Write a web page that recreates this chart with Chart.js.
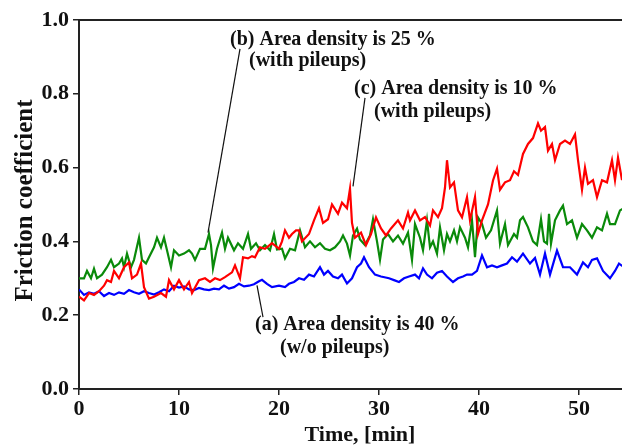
<!DOCTYPE html>
<html>
<head>
<meta charset="utf-8">
<script src="https://cdn.jsdelivr.net/npm/chart.js@4/dist/chart.umd.min.js"></script>
<style>
  html, body { margin: 0; padding: 0; background: #ffffff; }
  #wrap { width: 622px; height: 445px; position: relative; }
</style>
</head>
<body>
<div id="wrap"><canvas id="c" width="622" height="445"></canvas></div>
<script>
// ---- data: [time (min), friction coefficient] ----
const xTicks = [0, 10, 20, 30, 40, 50];
const yTicks = [0.0, 0.2, 0.4, 0.6, 0.8, 1.0];
const xTitle = "Time, [min]";
const yTitle = "Friction coefficient";

const seriesNames = ["(a) Area density is 40 %", "(b) Area density is 25 %", "(c) Area density is 10 %"];

const blueA = [[0,0.27],[0.5,0.255],[1,0.262],[1.5,0.258],[2,0.265],[2.5,0.252],[3,0.26],[3.5,0.255],[4,0.262],[4.5,0.258],[5,0.268],[5.5,0.262],[6,0.258],[6.5,0.265],[7,0.26],[7.5,0.256],[8,0.262],[8.5,0.27],[9,0.265],[9.5,0.28],[10,0.275],[10.5,0.278],[11,0.27],[11.5,0.268],[12,0.274],[12.5,0.27],[13,0.268],[13.5,0.272],[14,0.27],[14.5,0.28],[15,0.272],[15.5,0.276],[16,0.285],[16.5,0.278],[17,0.28],[17.5,0.284],[18,0.292],[18.3,0.296],[18.8,0.285],[19.3,0.276],[20,0.28],[20.6,0.276],[21,0.285],[21.5,0.29],[22,0.3],[22.5,0.296],[23,0.31],[23.5,0.305],[24.1,0.33],[24.5,0.31],[24.9,0.32],[25.4,0.305],[25.9,0.3],[26.3,0.31],[26.8,0.286],[27.3,0.3],[27.8,0.33],[28.2,0.34],[28.5,0.357],[29,0.33],[29.6,0.31],[30.2,0.305],[31,0.3],[31.5,0.295],[32,0.29],[32.5,0.3],[33,0.305],[33.6,0.31],[34,0.3],[34.4,0.327],[34.8,0.31],[35.3,0.3],[35.8,0.315],[36.3,0.32],[36.8,0.305],[37.4,0.29],[37.9,0.3],[38.4,0.305],[38.8,0.31],[39.3,0.31],[39.8,0.32],[40.3,0.362],[40.8,0.33],[41.3,0.335],[41.8,0.33],[42.3,0.335],[42.8,0.34],[43.3,0.357],[43.8,0.345],[44.4,0.367],[45.1,0.34],[45.6,0.355],[46.1,0.31],[46.6,0.367],[47.1,0.31],[47.8,0.375],[48.4,0.33],[49.1,0.33],[49.8,0.31],[50.4,0.343],[50.9,0.33],[51.3,0.35],[51.8,0.354],[52.4,0.32],[53.1,0.3],[53.6,0.32],[54,0.34],[54.5,0.33]];

const greenB = [[0,0.3],[0.5,0.3],[0.8,0.32],[1.2,0.3],[1.5,0.326],[1.8,0.3],[2.3,0.31],[2.8,0.33],[3.2,0.35],[3.5,0.33],[4,0.34],[4.3,0.354],[4.5,0.33],[4.8,0.367],[5.2,0.33],[5.5,0.35],[6,0.41],[6.3,0.35],[6.7,0.34],[7,0.357],[7.5,0.384],[7.8,0.41],[8.2,0.384],[8.5,0.41],[8.8,0.376],[9.2,0.33],[9.5,0.376],[10,0.362],[10.5,0.367],[11,0.376],[11.3,0.367],[11.6,0.35],[12.1,0.38],[12.6,0.38],[13,0.42],[13.2,0.39],[13.4,0.327],[13.8,0.38],[14.3,0.424],[14.6,0.38],[14.9,0.41],[15.5,0.376],[15.9,0.395],[16.4,0.38],[16.9,0.42],[17.2,0.38],[17.7,0.395],[18.1,0.376],[18.6,0.39],[19.1,0.376],[19.5,0.42],[19.8,0.378],[20.3,0.38],[20.6,0.354],[21.1,0.38],[21.6,0.376],[22.1,0.43],[22.6,0.384],[23.1,0.4],[23.6,0.384],[24.1,0.395],[24.6,0.38],[25.1,0.376],[25.6,0.384],[26.1,0.4],[26.4,0.416],[26.8,0.394],[27.1,0.362],[27.4,0.416],[27.8,0.435],[28.1,0.405],[28.6,0.39],[29.1,0.416],[29.4,0.46],[29.8,0.4],[30.1,0.35],[30.4,0.405],[30.9,0.42],[31.4,0.4],[31.9,0.416],[32.4,0.394],[32.9,0.424],[33.3,0.35],[33.6,0.447],[34.1,0.41],[34.4,0.376],[34.8,0.457],[35.1,0.384],[35.4,0.4],[35.8,0.367],[36.1,0.438],[36.5,0.376],[36.8,0.42],[37.1,0.4],[37.5,0.43],[37.8,0.4],[38.1,0.438],[38.6,0.41],[38.9,0.384],[39.3,0.457],[39.6,0.357],[39.9,0.465],[40.3,0.447],[40.7,0.41],[41.2,0.43],[41.8,0.484],[42.1,0.394],[42.6,0.447],[42.9,0.39],[43.5,0.42],[43.8,0.41],[44.1,0.457],[44.4,0.466],[44.9,0.438],[45.4,0.4],[45.8,0.39],[46.2,0.46],[46.5,0.4],[46.8,0.394],[47,0.475],[47.2,0.394],[47.6,0.457],[48.1,0.484],[48.4,0.497],[48.8,0.447],[49.3,0.457],[49.8,0.41],[50.3,0.447],[50.8,0.43],[51.3,0.41],[51.8,0.438],[52.3,0.43],[52.8,0.475],[53.1,0.447],[53.6,0.447],[54.1,0.484],[54.5,0.49]];

const redC = [[0,0.25],[0.5,0.24],[1,0.26],[1.5,0.255],[2,0.265],[2.5,0.28],[2.8,0.295],[3.2,0.29],[3.5,0.32],[4,0.3],[4.5,0.33],[5,0.343],[5.3,0.3],[5.8,0.31],[6.2,0.34],[6.5,0.276],[7,0.245],[7.5,0.25],[8.2,0.26],[8.7,0.25],[9,0.295],[9.5,0.27],[10,0.295],[10.5,0.27],[11,0.29],[11.3,0.26],[11.7,0.28],[12,0.295],[12.6,0.3],[13.1,0.29],[13.6,0.3],[14.1,0.295],[14.6,0.303],[15.3,0.316],[15.6,0.335],[16.1,0.3],[16.4,0.357],[16.9,0.354],[17.3,0.36],[17.6,0.357],[18.1,0.384],[18.6,0.38],[19.3,0.395],[20,0.38],[20.3,0.4],[20.6,0.43],[21,0.41],[21.3,0.42],[21.7,0.43],[22,0.43],[22.3,0.4],[23,0.42],[23.5,0.457],[24,0.49],[24.4,0.45],[24.9,0.46],[25.3,0.5],[25.9,0.475],[26.3,0.505],[26.8,0.49],[27.1,0.543],[27.3,0.45],[27.6,0.41],[28.2,0.424],[28.7,0.39],[29.2,0.42],[29.7,0.465],[30.2,0.435],[30.7,0.416],[31.2,0.435],[31.9,0.457],[32.4,0.435],[32.9,0.478],[33.1,0.457],[33.6,0.484],[34.1,0.457],[34.6,0.466],[35.1,0.443],[35.4,0.484],[35.9,0.466],[36.3,0.49],[36.6,0.546],[36.8,0.62],[37.1,0.546],[37.5,0.56],[37.9,0.484],[38.3,0.465],[38.8,0.52],[39.1,0.457],[39.6,0.52],[39.9,0.42],[40.3,0.457],[40.9,0.5],[41.4,0.565],[41.8,0.597],[42.1,0.54],[42.6,0.56],[43.1,0.566],[43.5,0.59],[43.9,0.58],[44.4,0.637],[44.9,0.664],[45.4,0.68],[45.9,0.72],[46.2,0.7],[46.6,0.71],[46.9,0.646],[47.3,0.664],[47.6,0.62],[48.1,0.664],[48.6,0.673],[49.1,0.664],[49.6,0.69],[49.9,0.62],[50.3,0.54],[50.6,0.6],[50.9,0.556],[51.4,0.566],[51.8,0.52],[52.3,0.566],[52.8,0.56],[53.3,0.62],[53.6,0.566],[53.9,0.627],[54.3,0.566],[54.6,0.58]];

// ---- annotation layout (data units) ----
const notes = [
  { lines: ["(b) Area density is 25 %", "(with pileups)"], at: [[15.1, 0.932], [17.0, 0.876]], leader: [[16.1, 0.922], [12.9, 0.424]] },
  { lines: ["(c) Area density is 10 %", "(with pileups)"], at: [[27.5, 0.800], [29.5, 0.738]], leader: [[28.6, 0.789], [27.4, 0.549]] },
  { lines: ["(a) Area density is 40 %", "(w/o pileups)"], at: [[17.6, 0.159], [20.1, 0.097]], leader: [[17.8, 0.281], [18.4, 0.195]] }
];

const SERIF = '"Liberation Serif", "Times New Roman", serif';
const toXY = arr => arr.map(p => ({ x: p[0], y: p[1] }));

const decor = {
  id: 'decor',
  afterDatasetsDraw(chart) {
    const { ctx, chartArea, scales } = chart;
    const xs = scales.x, ys = scales.y;
    ctx.save();
    // top frame line
    ctx.strokeStyle = '#222';
    ctx.lineWidth = 2;
    ctx.beginPath();
    ctx.moveTo(chartArea.left - 1, chartArea.top);
    ctx.lineTo(chartArea.right, chartArea.top);
    ctx.stroke();
    // annotations
    ctx.fillStyle = '#111';
    ctx.font = 'bold 20px ' + SERIF;
    ctx.textAlign = 'left';
    ctx.textBaseline = 'alphabetic';
    notes.forEach(n => {
      n.lines.forEach((t, i) => {
        ctx.fillText(t, xs.getPixelForValue(n.at[i][0]), ys.getPixelForValue(n.at[i][1]));
      });
      ctx.strokeStyle = '#111';
      ctx.lineWidth = 1.2;
      ctx.beginPath();
      ctx.moveTo(xs.getPixelForValue(n.leader[0][0]), ys.getPixelForValue(n.leader[0][1]));
      ctx.lineTo(xs.getPixelForValue(n.leader[1][0]), ys.getPixelForValue(n.leader[1][1]));
      ctx.stroke();
    });
    // axis titles
    ctx.font = 'bold 22px ' + SERIF;
    ctx.textAlign = 'center';
    ctx.fillText(xTitle, 360, 441);
    ctx.save();
    ctx.translate(32, (chartArea.top + chartArea.bottom) / 2 - 4);
    ctx.rotate(-Math.PI / 2);
    ctx.font = 'bold 25px ' + SERIF;
    ctx.fillText(yTitle, 0, 0);
    ctx.restore();
    ctx.restore();
  }
};

new Chart(document.getElementById('c'), {
  type: 'line',
  data: {
    datasets: [
      { label: seriesNames[2], data: toXY(redC), borderColor: '#ff0000' },
      { label: seriesNames[1], data: toXY(greenB), borderColor: '#0a8a0a' },
      { label: seriesNames[0], data: toXY(blueA), borderColor: '#0000ff' }
    ]
  },
  options: {
    responsive: false,
    animation: false,
    devicePixelRatio: 1,
    layout: { padding: { top: 20, right: 0, left: 0, bottom: 0 } },
    elements: {
      point: { radius: 0 },
      line: { borderWidth: 2.2, tension: 0, fill: false }
    },
    plugins: { legend: { display: false }, tooltip: { enabled: false } },
    scales: {
      x: {
        type: 'linear',
        min: 0, max: 54.3,
        afterFit: s => { s.height = 56; },
        afterBuildTicks: s => { s.ticks = xTicks.map(v => ({ value: v })); },
        ticks: { color: '#111', font: { family: SERIF, size: 22, weight: 'bold' }, padding: 1, maxRotation: 0, callback: v => String(v) },
        grid: { display: true, drawOnChartArea: false, drawTicks: true, tickLength: 6, color: '#222', lineWidth: 1.5 },
        border: { display: true, color: '#222', width: 2 }
      },
      y: {
        min: 0, max: 1,
        afterFit: s => { s.width = 79; },
        afterBuildTicks: s => { s.ticks = yTicks.map(v => ({ value: v })); },
        ticks: { color: '#111', font: { family: SERIF, size: 22, weight: 'bold' }, padding: 4, callback: v => Number(v).toFixed(1) },
        grid: { display: true, drawOnChartArea: false, drawTicks: true, tickLength: 6, color: '#222', lineWidth: 1.5 },
        border: { display: true, color: '#222', width: 2 }
      }
    }
  },
  plugins: [decor]
});
</script>
</body>
</html>
